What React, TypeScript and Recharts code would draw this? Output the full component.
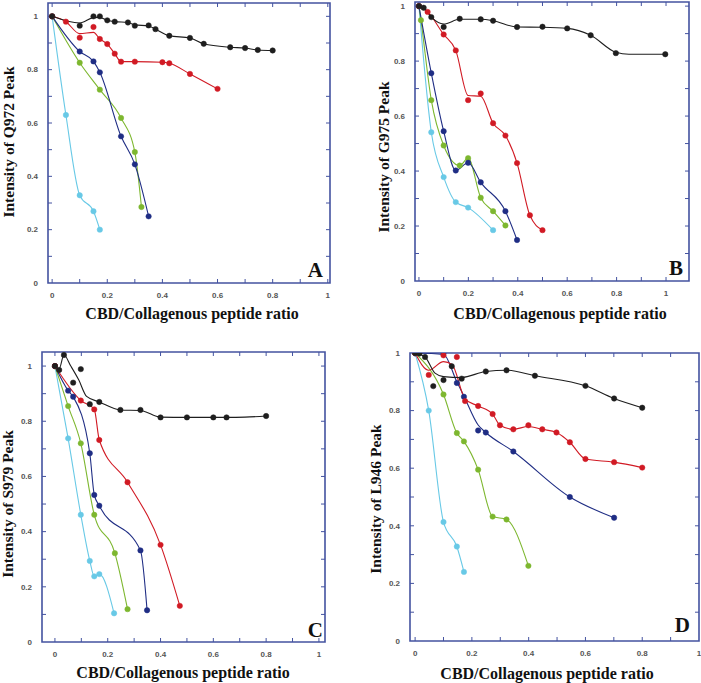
import React from 'react';
import { LineChart, Line, XAxis, YAxis, ReferenceLine, ReferenceArea } from 'recharts';

type P = [number, number];

// ---------- Panel A (Q972) ----------
const aBlack: P[] = [[0,1],[0.1,0.965],[0.15,1.0],[0.173,1.0],[0.2,0.985],[0.227,0.98],[0.275,0.977],[0.3,0.965],[0.35,0.966],[0.375,0.952],[0.425,0.927],[0.5,0.919],[0.55,0.897],[0.646,0.884],[0.7,0.881],[0.746,0.874],[0.8,0.872]];
const aBlackCurve: P[] = [[0,1],[0.1,0.975],[0.15,0.995],[0.173,0.996],[0.2,0.985],[0.227,0.98],[0.275,0.977],[0.3,0.968],[0.35,0.964],[0.375,0.952],[0.425,0.927],[0.5,0.919],[0.55,0.897],[0.646,0.884],[0.7,0.881],[0.746,0.874],[0.8,0.872]];
const aRed: P[] = [[0,1],[0.05,0.98],[0.1,0.92],[0.15,0.96],[0.173,0.915],[0.2,0.896],[0.227,0.86],[0.25,0.83],[0.3,0.83],[0.4,0.828],[0.425,0.824],[0.5,0.784],[0.6,0.728]];
const aRedCurve: P[] = [[0,1],[0.05,0.98],[0.1,0.935],[0.15,0.94],[0.173,0.915],[0.2,0.896],[0.227,0.86],[0.25,0.83],[0.3,0.83],[0.4,0.828],[0.425,0.824],[0.5,0.784],[0.6,0.728]];
const aBlue: P[] = [[0,1],[0.1,0.868],[0.15,0.831],[0.173,0.79],[0.25,0.55],[0.3,0.445],[0.35,0.25]];
const aGreen: P[] = [[0,1],[0.1,0.826],[0.173,0.725],[0.25,0.619],[0.3,0.491],[0.324,0.285]];
const aCyan: P[] = [[0,1],[0.05,0.63],[0.1,0.329],[0.15,0.269],[0.173,0.2]];

// ---------- Panel B (G975) ----------
const bBlack: P[] = [[0,1],[0.019,0.994],[0.05,0.96],[0.1,0.924],[0.165,0.954],[0.25,0.952],[0.3,0.947],[0.397,0.924],[0.5,0.925],[0.6,0.919],[0.695,0.894],[0.797,0.829],[0.997,0.825]];
const bBlackCurve: P[] = [[0,1],[0.019,0.994],[0.05,0.96],[0.1,0.935],[0.165,0.952],[0.25,0.952],[0.3,0.947],[0.397,0.924],[0.5,0.923],[0.6,0.919],[0.695,0.894],[0.797,0.832],[0.85,0.825],[0.997,0.825]];
const bRed: P[] = [[0,1],[0.035,0.979],[0.1,0.897],[0.149,0.839],[0.199,0.658],[0.25,0.682],[0.3,0.574],[0.35,0.529],[0.397,0.429],[0.449,0.239],[0.5,0.185]];
const bRedCurve: P[] = [[0,1],[0.035,0.979],[0.1,0.897],[0.149,0.839],[0.199,0.675],[0.25,0.672],[0.3,0.574],[0.35,0.529],[0.397,0.429],[0.449,0.239],[0.5,0.185]];
const bBlue: P[] = [[0,1],[0.05,0.756],[0.1,0.545],[0.149,0.402],[0.199,0.43],[0.25,0.359],[0.35,0.254],[0.397,0.149]];
const bGreen: P[] = [[0,1],[0.008,0.949],[0.05,0.658],[0.1,0.493],[0.165,0.42],[0.199,0.447],[0.25,0.303],[0.3,0.254],[0.35,0.202]];
const bCyan: P[] = [[0,1],[0.05,0.541],[0.1,0.378],[0.149,0.287],[0.199,0.267],[0.3,0.185]];

// ---------- Panel C (S979) ----------
const cBlack: P[] = [[0,1],[0.016,0.986],[0.034,1.04],[0.069,0.94],[0.098,0.989],[0.132,0.862],[0.168,0.87],[0.248,0.841],[0.324,0.841],[0.4,0.814],[0.5,0.814],[0.6,0.814],[0.65,0.814],[0.8,0.819]];
const cBlackCurve: P[] = [[0,1],[0.016,0.99],[0.034,1.04],[0.06,1.0],[0.09,0.95],[0.12,0.89],[0.168,0.87],[0.248,0.841],[0.324,0.839],[0.4,0.815],[0.5,0.814],[0.6,0.814],[0.65,0.814],[0.72,0.815],[0.8,0.819]];
const cRed: P[] = [[0,1],[0.098,0.875],[0.149,0.843],[0.168,0.732],[0.275,0.579],[0.4,0.352],[0.473,0.131]];
const cBlue: P[] = [[0,1],[0.05,0.911],[0.069,0.889],[0.132,0.684],[0.149,0.533],[0.168,0.494],[0.324,0.332],[0.349,0.115]];
const cGreen: P[] = [[0,1],[0.05,0.855],[0.098,0.72],[0.149,0.461],[0.227,0.322],[0.275,0.119]];
const cCyan: P[] = [[0,1],[0.05,0.738],[0.098,0.461],[0.132,0.294],[0.149,0.238],[0.168,0.246],[0.224,0.104]];

// ---------- Panel D (L946) ----------
const dBlack: P[] = [[0,1],[0.015,0.998],[0.035,0.986],[0.064,0.885],[0.1,0.906],[0.129,0.954],[0.164,0.911],[0.249,0.936],[0.322,0.94],[0.422,0.921],[0.6,0.886],[0.701,0.842],[0.8,0.81]];
const dBlackCurve: P[] = [[0,1],[0.035,0.986],[0.07,0.93],[0.1,0.918],[0.164,0.915],[0.249,0.936],[0.322,0.94],[0.422,0.921],[0.6,0.886],[0.701,0.842],[0.8,0.81]];
const dRed: P[] = [[0,1],[0.048,0.924],[0.1,0.992],[0.147,0.986],[0.176,0.833],[0.222,0.816],[0.273,0.788],[0.299,0.749],[0.346,0.735],[0.399,0.749],[0.448,0.735],[0.498,0.724],[0.545,0.69],[0.6,0.632],[0.701,0.621],[0.8,0.602]];
const dRedCurve: P[] = [[0,1],[0.048,0.94],[0.1,0.97],[0.13,0.96],[0.176,0.84],[0.222,0.816],[0.273,0.788],[0.299,0.749],[0.346,0.735],[0.399,0.745],[0.448,0.735],[0.498,0.724],[0.545,0.69],[0.6,0.632],[0.701,0.621],[0.8,0.602]];
const dBlue: P[] = [[0,1],[0.1,1.0],[0.147,0.896],[0.172,0.848],[0.222,0.731],[0.249,0.724],[0.346,0.658],[0.545,0.5],[0.701,0.428]];
const dBlueCurve: P[] = [[0,1],[0.1,0.995],[0.147,0.9],[0.172,0.85],[0.222,0.75],[0.249,0.724],[0.346,0.658],[0.545,0.5],[0.701,0.428]];
const dGreen: P[] = [[0,1],[0.1,0.856],[0.147,0.722],[0.172,0.693],[0.222,0.595],[0.273,0.432],[0.322,0.422],[0.399,0.261]];
const dCyan: P[] = [[0,1],[0.048,0.8],[0.1,0.413],[0.147,0.328],[0.172,0.24]];

// ---------- shared ----------
const xTicks = [0, 0.1, 0.2, 0.3, 0.4, 0.5, 0.6, 0.7, 0.8, 0.9, 1];
const yTicks = [0, 0.1, 0.2, 0.3, 0.4, 0.5, 0.6, 0.7, 0.8, 0.9, 1];
const tickLabels: Record<number, string> = { 0: '0', 2: '0.2', 4: '0.4', 6: '0.6', 8: '0.8', 10: '1' };
const xTitle = 'CBD/Collagenous peptide ratio';

const BLACK = '#1e1e1e';
const RED = '#d11a24';
const BLUE = '#1f2d84';
const GREEN = '#7db72f';
const CYAN = '#68c9e6';
const FRAME = '#4453a0';
const TICK_LEN = 4;

const fmt = (v: number) => tickLabels[Math.round(v * 10)] ?? '';
const toPts = (a: P[]) => a.map(([x, y]) => ({ x, y }));

const labelFont = { fill: '#555', fontSize: 8, fontWeight: 'bold', fontFamily: '"Liberation Sans", Arial, sans-serif' } as any;

const BottomLabel = (props: any) => {
  const { x, y, payload } = props;
  const lab = fmt(payload.value);
  return lab ? <text x={x} y={y + 15} textAnchor="middle" {...labelFont}>{lab}</text> : <g />;
};
const LeftLabel = (props: any) => {
  const { x, y, payload } = props;
  const lab = fmt(payload.value);
  return lab ? <text x={x - 10} y={y} dy="0.35em" textAnchor="end" {...labelFont}>{lab}</text> : <g />;
};

type Series = { color: string; pts: P[]; curve?: P[] };

type PanelProps = {
  box: { left: number; top: number; w: number; h: number };
  plot: { L: number; R: number; T: number; B: number };
  xDomain: [number, number];
  yDomain: [number, number];
  series: Series[];
  yTitle: string;
  xTitlePos: [number, number];
  yTitlePos: [number, number];
  letter: string;
  letterPos: [number, number];
};

function Panel(p: PanelProps) {
  const { left, top, w, h } = p.box;
  const { L, R, T, B } = p.plot;
  const xAxisH = 20;
  const [x0, x1] = p.xDomain;
  const [y0, y1] = p.yDomain;
  // tick length expressed in data units (constant pixel length)
  const dx = (TICK_LEN * (x1 - x0)) / (R - L);
  const dy = (TICK_LEN * (y1 - y0)) / (B - T);

  const lines: React.ReactNode[] = [];
  p.series.forEach((s, i) => {
    if (s.curve) {
      lines.push(
        <Line key={`c${i}`} xAxisId="b" yAxisId="l" data={toPts(s.curve)} dataKey="y" type="monotone"
          stroke={s.color} strokeWidth={1.1} dot={false} isAnimationActive={false} />
      );
      lines.push(
        <Line key={`p${i}`} xAxisId="b" yAxisId="l" data={toPts(s.pts)} dataKey="y" type="monotone"
          stroke="none" dot={{ r: 2.7, fill: s.color, stroke: s.color, strokeWidth: 0.5 }} isAnimationActive={false} />
      );
    } else {
      lines.push(
        <Line key={`l${i}`} xAxisId="b" yAxisId="l" data={toPts(s.pts)} dataKey="y" type="monotone"
          stroke={s.color} strokeWidth={1.1} dot={{ r: 2.7, fill: s.color, stroke: s.color, strokeWidth: 0.5 }} isAnimationActive={false} />
      );
    }
  });

  const tickMarks: React.ReactNode[] = [];
  xTicks.forEach((t, i) => {
    if (t <= x0 || t >= x1) return;
    tickMarks.push(<ReferenceLine key={`xb${i}`} xAxisId="b" yAxisId="l" ifOverflow="visible"
      segment={[{ x: t, y: y0 }, { x: t, y: y0 + dy }]} stroke={FRAME} strokeWidth={1} />);
    tickMarks.push(<ReferenceLine key={`xt${i}`} xAxisId="b" yAxisId="l" ifOverflow="visible"
      segment={[{ x: t, y: y1 }, { x: t, y: y1 - dy }]} stroke={FRAME} strokeWidth={1} />);
  });
  yTicks.forEach((t, i) => {
    if (t <= y0 || t >= y1) return;
    tickMarks.push(<ReferenceLine key={`yl${i}`} xAxisId="b" yAxisId="l" ifOverflow="visible"
      segment={[{ x: x0, y: t }, { x: x0 + dx, y: t }]} stroke={FRAME} strokeWidth={1} />);
    tickMarks.push(<ReferenceLine key={`yr${i}`} xAxisId="b" yAxisId="l" ifOverflow="visible"
      segment={[{ x: x1, y: t }, { x: x1 - dx, y: t }]} stroke={FRAME} strokeWidth={1} />);
  });

  const xCommon = { type: 'number' as const, dataKey: 'x', domain: p.xDomain, allowDataOverflow: true, ticks: xTicks, interval: 0 as const, tickSize: 0, tickMargin: 0, tickLine: false, axisLine: false };
  const yCommon = { type: 'number' as const, domain: p.yDomain, allowDataOverflow: true, ticks: yTicks, interval: 0 as const, tickSize: 0, tickMargin: 0, tickLine: false, axisLine: false };
  return (
    <div style={{ position: 'absolute', left, top, width: w, height: h }}>
      <LineChart width={w} height={h} margin={{ top: T, right: w - R, bottom: h - B - xAxisH, left: 0 }}>
        <XAxis xAxisId="b" {...xCommon} height={xAxisH} tick={BottomLabel} />
        <YAxis yAxisId="l" {...yCommon} width={L} tick={LeftLabel} />
        <ReferenceArea xAxisId="b" yAxisId="l" x1={x0} x2={x1} y1={y0} y2={y1} ifOverflow="visible"
          fill="none" fillOpacity={0} stroke={FRAME} strokeWidth={1.6} />
        {tickMarks}
        {lines}
      </LineChart>
      <svg width={w} height={h} style={{ position: 'absolute', left: 0, top: 0, pointerEvents: 'none' }}>
        <text x={p.xTitlePos[0]} y={p.xTitlePos[1]} textAnchor="middle" dominantBaseline="central"
          fontFamily='"Liberation Serif", "Times New Roman", serif' fontWeight="bold" fontSize={16} fill="#111">{xTitle}</text>
        <text transform={`translate(${p.yTitlePos[0]},${p.yTitlePos[1]}) rotate(-90)`} textAnchor="middle" dominantBaseline="central"
          fontFamily='"Liberation Serif", "Times New Roman", serif' fontWeight="bold" fontSize={15.5} fill="#111">{p.yTitle}</text>
        <text x={p.letterPos[0]} y={p.letterPos[1]} textAnchor="end"
          fontFamily='"Liberation Serif", "Times New Roman", serif' fontWeight="bold" fontSize={21} fill="#111">{p.letter}</text>
      </svg>
    </div>
  );
}

export default function App() {
  return (
    <div style={{ position: 'absolute', left: 0, top: 0, width: 701, height: 683, background: '#fff', overflow: 'hidden' }}>
      <Panel
        box={{ left: 0, top: 0, w: 350, h: 330 }}
        plot={{ L: 48, R: 330, T: 3, B: 283 }}
        xDomain={[-0.015, 1.008]} yDomain={[0, 1.05]}
        series={[
          { color: CYAN, pts: aCyan },
          { color: GREEN, pts: aGreen },
          { color: BLUE, pts: aBlue },
          { color: RED, pts: aRed, curve: aRedCurve },
          { color: BLACK, pts: aBlack, curve: aBlackCurve },
        ]}
        yTitle="Intensity of Q972 Peak"
        xTitlePos={[192, 313]} yTitlePos={[8, 142]}
        letter="A" letterPos={[323, 277]}
      />
      <Panel
        box={{ left: 350, top: 0, w: 351, h: 330 }}
        plot={{ L: 65, R: 339, T: 2, B: 281 }}
        xDomain={[-0.016, 1.093]} yDomain={[0, 1.015]}
        series={[
          { color: CYAN, pts: bCyan },
          { color: GREEN, pts: bGreen },
          { color: BLUE, pts: bBlue },
          { color: RED, pts: bRed, curve: bRedCurve },
          { color: BLACK, pts: bBlack, curve: bBlackCurve },
        ]}
        yTitle="Intensity of  G975 Peak"
        xTitlePos={[210, 313]} yTitlePos={[33, 157]}
        letter="B" letterPos={[333, 275]}
      />
      <Panel
        box={{ left: 0, top: 330, w: 350, h: 353 }}
        plot={{ L: 42, R: 325, T: 22, B: 312 }}
        xDomain={[-0.049, 1.023]} yDomain={[0, 1.051]}
        series={[
          { color: CYAN, pts: cCyan },
          { color: GREEN, pts: cGreen },
          { color: BLUE, pts: cBlue },
          { color: RED, pts: cRed },
          { color: BLACK, pts: cBlack, curve: cBlackCurve },
        ]}
        yTitle="Intensity of S979 Peak"
        xTitlePos={[183, 342]} yTitlePos={[7, 174]}
        letter="C" letterPos={[323, 307]}
      />
      <Panel
        box={{ left: 350, top: 330, w: 351, h: 353 }}
        plot={{ L: 60, R: 349, T: 23, B: 311 }}
        xDomain={[-0.018, 1.0]} yDomain={[0, 1.0]}
        series={[
          { color: CYAN, pts: dCyan },
          { color: GREEN, pts: dGreen },
          { color: BLUE, pts: dBlue, curve: dBlueCurve },
          { color: RED, pts: dRed, curve: dRedCurve },
          { color: BLACK, pts: dBlack, curve: dBlackCurve },
        ]}
        yTitle="Intensity of  L946 Peak"
        xTitlePos={[197, 343]} yTitlePos={[25, 169]}
        letter="D" letterPos={[340, 302]}
      />
    </div>
  );
}
